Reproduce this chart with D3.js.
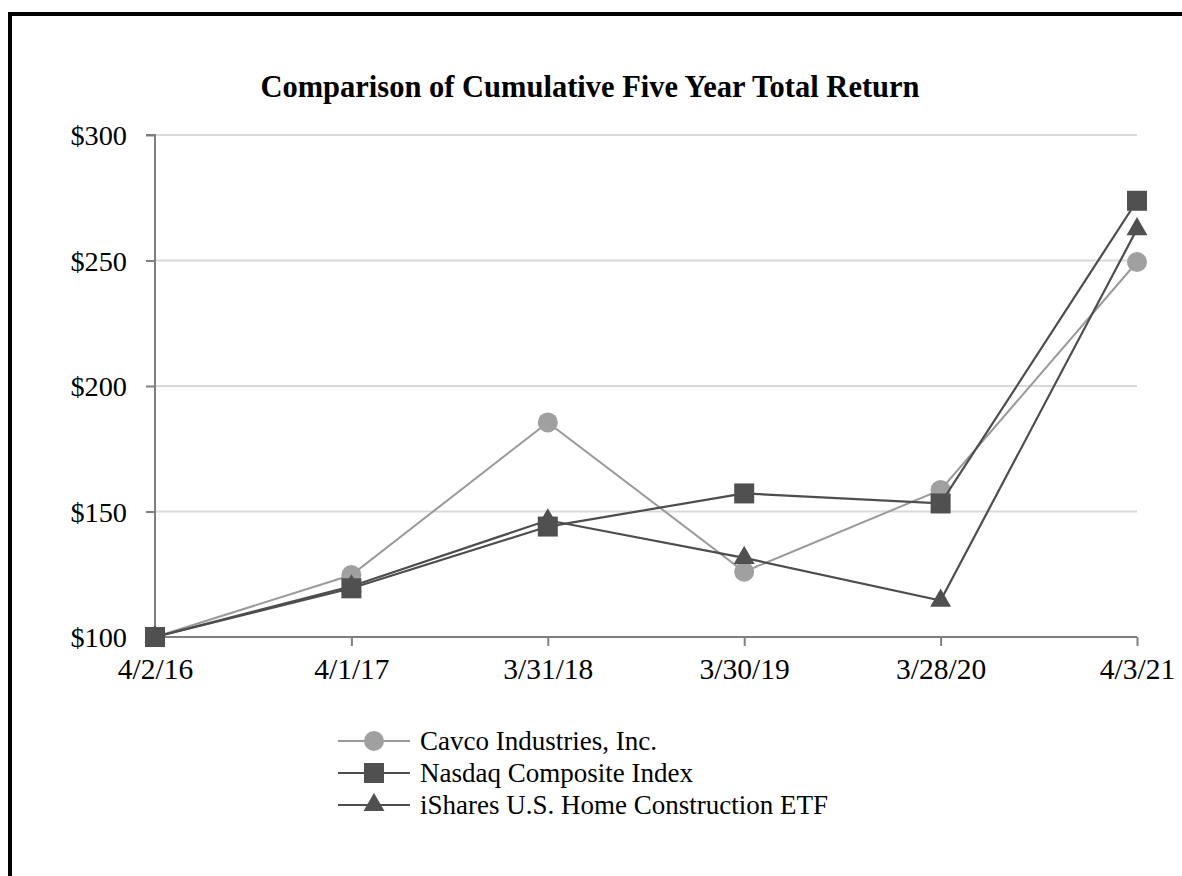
<!DOCTYPE html>
<html><head><meta charset="utf-8">
<script src="https://cdn.jsdelivr.net/npm/d3@7/dist/d3.min.js"></script>
<style>html,body{margin:0;padding:0;background:#fff;}svg{display:block;}</style>
</head><body>
<svg id="c" width="1182" height="876"></svg>
<script>
const categories = ["4/2/16","4/1/17","3/31/18","3/30/19","3/28/20","4/3/21"];
const cavco = [100, 124.7, 185.5, 126, 158.6, 249.4];
const nasdaq = [100, 119.4, 144, 157.2, 153.2, 273.8];
const ishares = [100, 120.2, 146.5, 131.5, 114.5, 262.5];
const yTicks = [100, 150, 200, 250, 300];
const seriesNames = ["Cavco Industries, Inc.", "Nasdaq Composite Index", "iShares U.S. Home Construction ETF"];

const svg = d3.select("#c");
const font = "'Liberation Serif','Times New Roman',serif";

// frame
svg.append("rect").attr("x",10).attr("y",14).attr("width",1200).attr("height",900)
  .attr("fill","none").attr("stroke","#000").attr("stroke-width",4);

const x = d3.scalePoint().domain(categories).range([155,1137]);
const y = d3.scaleLinear().domain([100,300]).range([637,135]);

svg.append("text").attr("x",590).attr("y",97).attr("text-anchor","middle")
  .attr("font-family",font).attr("font-weight","bold").attr("font-size",30.5)
  .text("Comparison of Cumulative Five Year Total Return");

// gridlines
svg.append("g").selectAll("line").data(yTicks.filter(d=>d>100)).join("line")
  .attr("x1",155).attr("x2",1137).attr("y1",d=>y(d)).attr("y2",d=>y(d))
  .attr("stroke","#d9d9d9").attr("stroke-width",2);

// y axis
const ya = svg.append("g").attr("transform","translate(155,0)")
  .call(d3.axisLeft(y).tickValues(yTicks).tickSize(9).tickPadding(19).tickFormat(d=>"$"+d));
ya.selectAll("path,line").attr("stroke","#7f7f7f").attr("stroke-width",2);
ya.select(".domain").attr("d","M-9,"+y(300)+"H0V"+y(100));
ya.selectAll("text").attr("font-family",font).attr("font-size",28.3).attr("fill","#000").attr("dy","0.34em");

// x axis
const xa = svg.append("g").attr("transform","translate(0,637)")
  .call(d3.axisBottom(x).tickSize(9).tickPadding(12));
xa.selectAll("path,line").attr("stroke","#7f7f7f").attr("stroke-width",2);
xa.select(".domain").attr("d","M155,0H1137");
xa.selectAll("text").attr("font-family",font).attr("font-size",29.5).attr("fill","#000");

const line = d3.line().x((d,i)=>x(categories[i])).y(d=>y(d));
const tri = d3.symbol().type(d3.symbolTriangle).size(190);

function drawSeries(vals, lineColor, markColor, lw, shape){
  const g = svg.append("g");
  g.append("path").attr("d",line(vals)).attr("fill","none").attr("stroke",lineColor).attr("stroke-width",lw);
  vals.forEach((v,i)=>{
    const cx = x(categories[i]), cy = y(v);
    marker(g, shape, cx, cy, markColor);
  });
}
function marker(g, shape, cx, cy, col){
  if(shape==="circle") g.append("circle").attr("cx",cx).attr("cy",cy).attr("r",10).attr("fill",col);
  else if(shape==="square") g.append("rect").attr("x",cx-10).attr("y",cy-10).attr("width",20).attr("height",20).attr("fill",col);
  else g.append("path").attr("d",tri).attr("transform",`translate(${cx},${cy})`).attr("fill",col);
}

drawSeries(cavco, "#9a9a9a", "#a0a0a0", 2, "circle");
drawSeries(ishares, "#4d4d4d", "#505050", 2.2, "triangle");
drawSeries(nasdaq, "#4d4d4d", "#505050", 2.2, "square");

// legend
const legend = svg.append("g");
const shapes = ["circle","square","triangle"];
const lcols = ["#9a9a9a","#4d4d4d","#4d4d4d"];
const mcols = ["#a0a0a0","#505050","#505050"];
seriesNames.forEach((n,i)=>{
  const ly = 741 + i*32;
  legend.append("line").attr("x1",338).attr("x2",410).attr("y1",ly).attr("y2",ly).attr("stroke",lcols[i]).attr("stroke-width",2);
  marker(legend, shapes[i], 374, ly, mcols[i]);
  legend.append("text").attr("x",420).attr("y",ly).attr("dy","0.34em")
    .attr("font-family",font).attr("font-size",27).attr("fill","#000").text(n);
});
</script>
</body></html>
